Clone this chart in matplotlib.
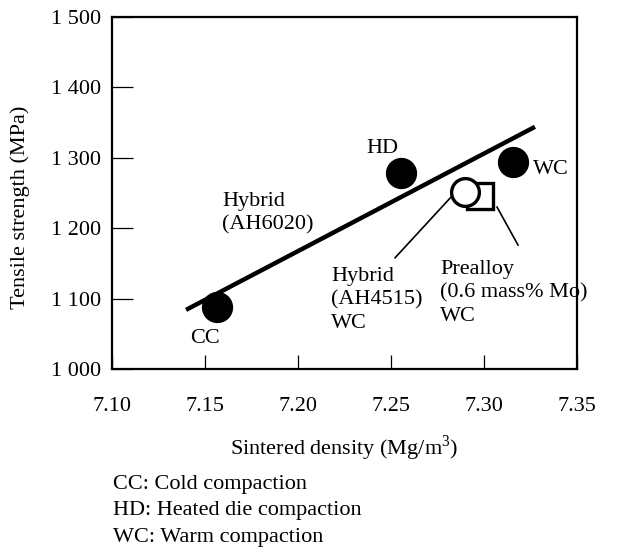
import numpy as np
import matplotlib
matplotlib.use("Agg")
import matplotlib.pyplot as plt
import matplotlib as mpl

mpl.rcParams.update({
    "font.family": "serif", "font.serif": ["Liberation Serif"], "font.size": 16,
    "mathtext.fontset": "custom", "mathtext.rm": "Liberation Serif",
    "axes.linewidth": 1.6,
    "xtick.direction": "in", "ytick.direction": "in",
    "xtick.major.size": 10, "ytick.major.size": 15,
    "xtick.major.width": 0.9, "ytick.major.width": 0.9,
})

# data
solid_labels = ["CC", "HD", "WC"]
solid_density = [7.1565, 7.2552, 7.3158]
solid_strength = [1088, 1279, 1294]
hybrid4515_density = [7.2898]
hybrid4515_strength = [1252]
prealloy_density = [7.2981]
prealloy_strength = [1246]
trend_density = [7.1398, 7.3274]
trend_strength = [1084, 1344]

xticks = [7.10, 7.15, 7.20, 7.25, 7.30, 7.35]
yticks = [1000, 1100, 1200, 1300, 1400, 1500]
ytick_labels = ["1 000", "1 100", "1 200", "1 300", "1 400", "1 500"]

fig = plt.figure(figsize=(6.27, 5.5), dpi=100)
ax = fig.add_axes([112 / 627, 1 - 369 / 550, 465 / 627, 352 / 550])

ax.plot(trend_density, trend_strength, color="black", linewidth=3.2, solid_capstyle="butt", zorder=2)
ax.plot(solid_density, solid_strength, "o", color="black", markersize=21.5, zorder=3)
ax.plot(prealloy_density, prealloy_strength, "s", markerfacecolor="white", markeredgecolor="black",
        markeredgewidth=2.4, markersize=19, zorder=3)
ax.plot(hybrid4515_density, hybrid4515_strength, "o", markerfacecolor="white", markeredgecolor="black",
        markeredgewidth=2.4, markersize=20, zorder=4)

ax.text(7.150, 1043, "CC", ha="center", va="center")
ax.text(7.2452, 1313, "HD", ha="center", va="center")
ax.text(7.3263, 1283, "WC", ha="left", va="center")
ax.text(7.1591, 1221, "Hybrid\n(AH6020)", ha="left", va="center", linespacing=1.3)
ax.text(7.2177, 1098, "Hybrid\n(AH4515)\nWC", ha="left", va="center", linespacing=1.33)
ax.text(7.2763, 1108, "Prealloy\n(0.6 mass% Mo)\nWC", ha="left", va="center", linespacing=1.33)
ax.plot([7.2822, 7.2522], [1244, 1158], color="black", linewidth=1.2, zorder=1)
ax.plot([7.3070, 7.3183], [1230, 1176], color="black", linewidth=1.2, zorder=1)

ax.set_xlim(7.10, 7.35)
ax.set_ylim(1000, 1500)
ax.set_xticks(xticks)
ax.set_xticklabels([f"{v:.2f}" for v in xticks])
ax.set_yticks(yticks)
ax.set_yticklabels(ytick_labels)
ax.tick_params(axis="x", pad=20)
ax.tick_params(axis="y", pad=8)
ax.set_xlabel("Sintered density (Mg/m$^3$)")
ax.xaxis.set_label_coords(0.5, -(433 - 369) / 352)
ax.set_ylabel("Tensile strength (MPa)")
ax.yaxis.set_label_coords(-(112 - 30) / 465, 0.46)

fig.text(113 / 627, 1 - 511 / 550, "CC: Cold compaction\nHD: Heated die compaction\nWC: Warm compaction",
         ha="left", va="center", linespacing=1.54)

fig.savefig("out.png", dpi=100)
